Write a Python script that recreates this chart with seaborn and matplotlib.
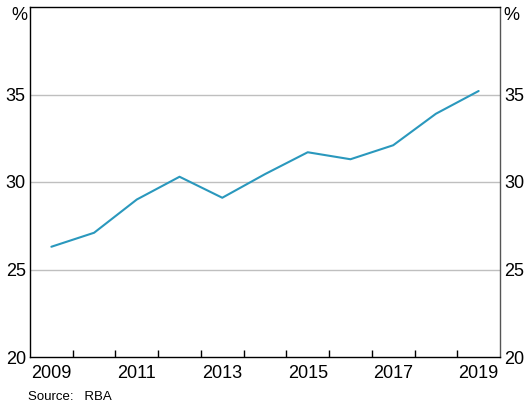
import numpy as np
import pandas as pd
import matplotlib
matplotlib.use('Agg')
import matplotlib.pyplot as plt
import seaborn as sns

# roczne wartości (w połowie roku)
lata = [2009, 2010, 2011, 2012, 2013, 2014, 2015, 2016, 2017, 2018, 2019]
wartosci = [26.3, 27.1, 29.0, 30.3, 29.1, 30.45, 31.7, 31.3, 32.1, 33.9, 35.2]
etykiety_lat = [2009, 2011, 2013, 2015, 2017, 2019]
y_ticks = [20, 25, 30, 35]

sns.set_style('white')
plt.rcParams['font.family'] = ['Liberation Sans', 'DejaVu Sans']
plt.rcParams['text.color'] = 'black'

df = pd.DataFrame({'rok': np.array(lata) + 0.5, 'wartosc': wartosci})

fig = plt.figure(figsize=(5.27, 4.08), dpi=100)
ax = fig.add_axes([30 / 527, 51 / 408, 470 / 527, 350 / 408])

sns.lineplot(data=df, x='rok', y='wartosc', ax=ax, color='#2a98bd', linewidth=1.5)

ax.set_xlim(2009, 2020)
ax.set_ylim(20, 40)
ax.set_xlabel('')
ax.set_ylabel('')

# siatka pozioma
for y in [25, 30, 35]:
    ax.axhline(y, color='#bfbfbf', linewidth=1, zorder=0)

ax.set_yticks(y_ticks)
ax.tick_params(axis='y', length=0, labelsize=13, pad=3, labelright=True,
               right=False, labelcolor='black')

ax.set_xticks([r + 0.5 for r in etykiety_lat])
ax.set_xticklabels([str(r) for r in etykiety_lat])
ax.set_xticks(list(range(2010, 2020)), minor=True)
ax.tick_params(axis='x', which='major', length=0, labelsize=13, pad=6, labelcolor='black')
ax.tick_params(axis='x', which='minor', bottom=True, direction='in', length=5,
               width=1, color='black')

for s in ['left', 'top', 'bottom']:
    ax.spines[s].set_color('black')
    ax.spines[s].set_linewidth(1)
ax.spines['right'].set_color('#555555')
ax.spines['right'].set_linewidth(1)

fig.text(27 / 527, 1 - 15 / 408, '%', ha='right', va='center', fontsize=13)
fig.text(503 / 527, 1 - 15 / 408, '%', ha='left', va='center', fontsize=13)
fig.text(28 / 527, 1 - 397 / 408, 'Source:   RBA', ha='left', va='center', fontsize=9.5)

plt.savefig('out.png', dpi=100)
